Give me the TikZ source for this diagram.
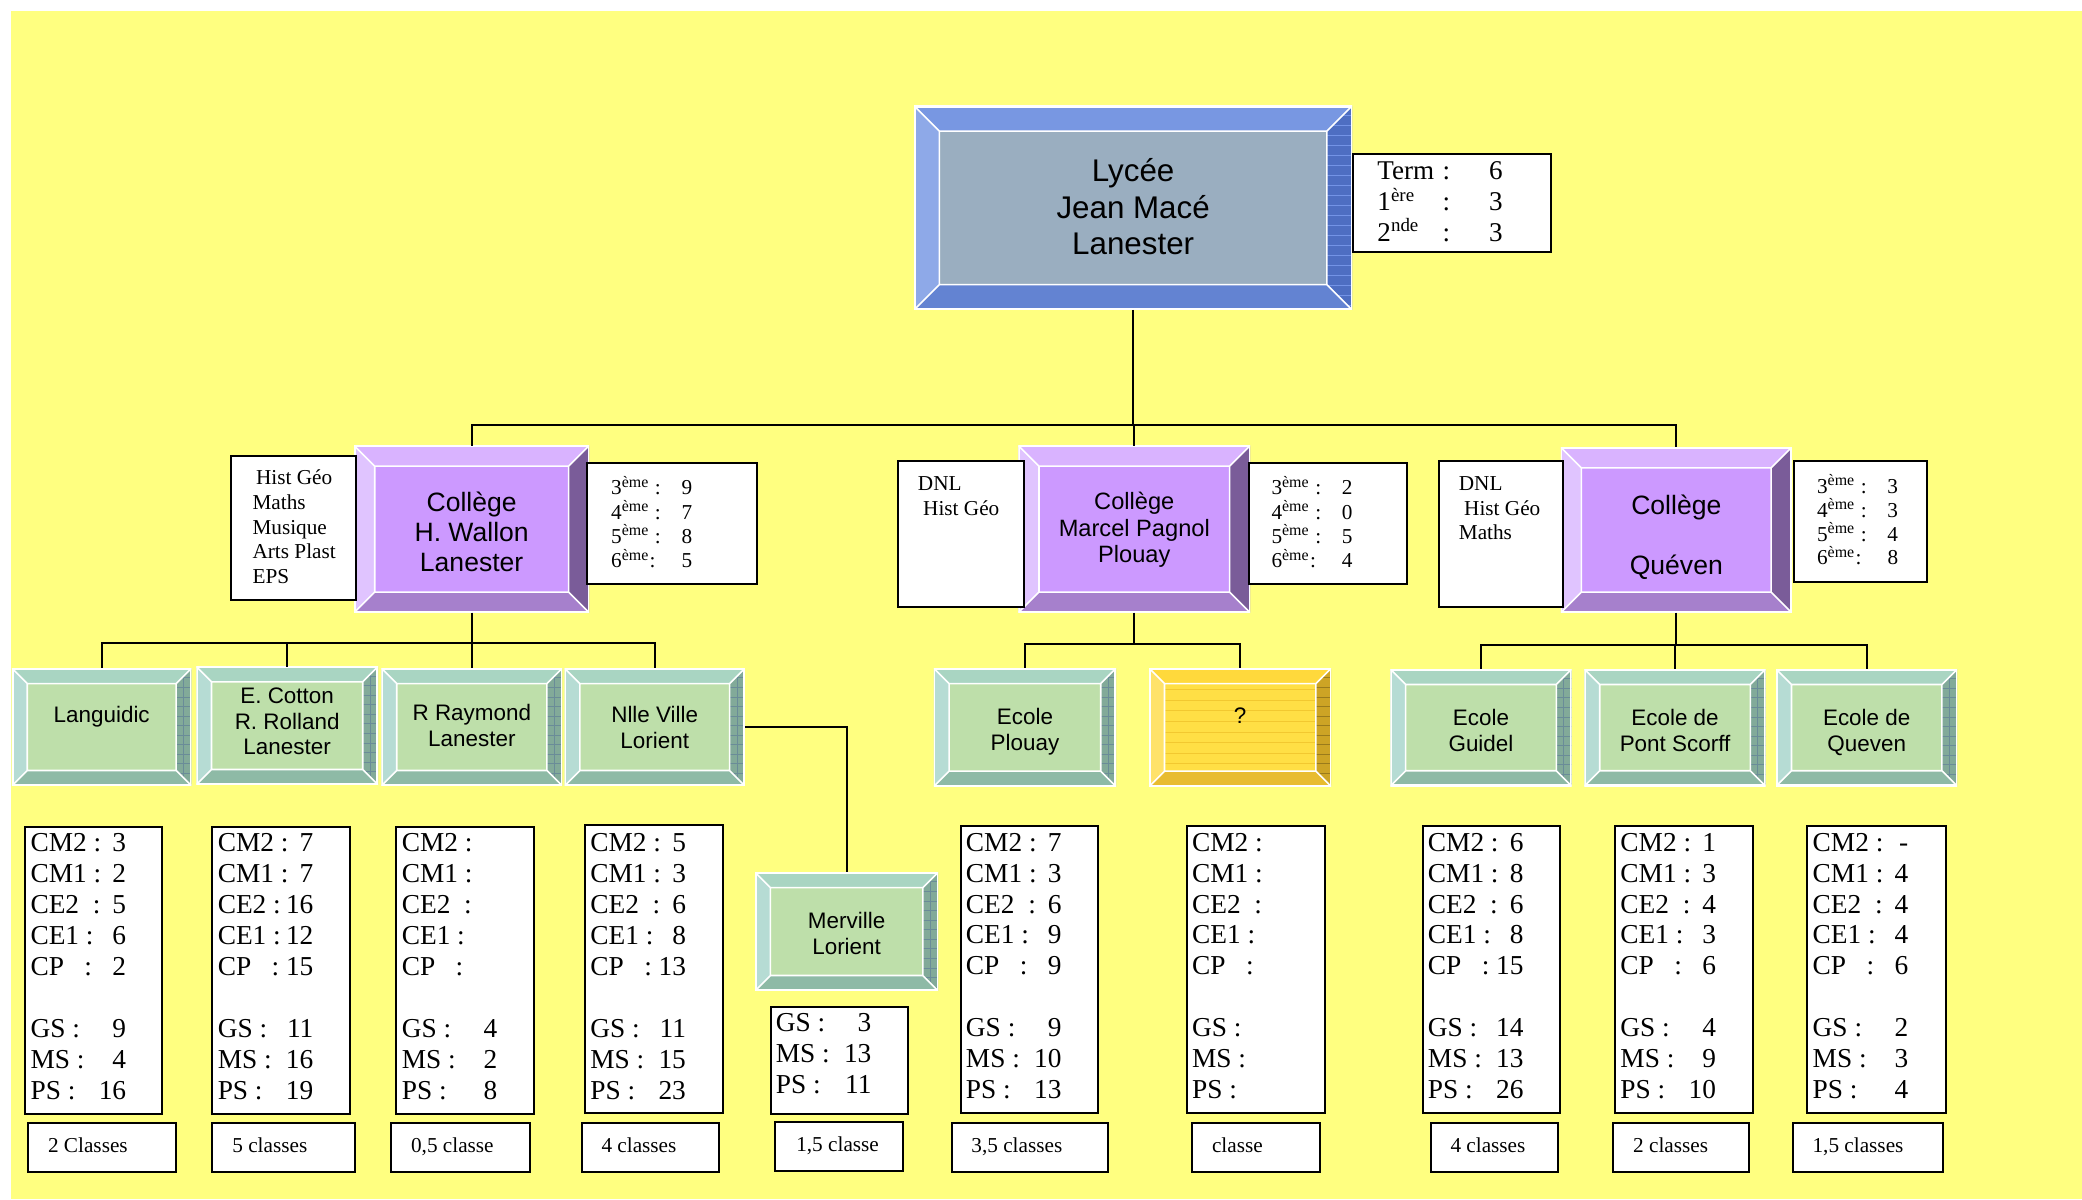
\documentclass[tikz,border=0pt]{standalone}
\usepackage{fontspec}
\setmainfont{Liberation Serif}
\setsansfont{Liberation Sans}
\definecolor{bgy}{HTML}{FFFF80}
\definecolor{lF}{HTML}{9AAEC0}\definecolor{lT}{HTML}{7897E2}\definecolor{lL}{HTML}{8EA9E8}
\definecolor{lR}{HTML}{4E6EC2}\definecolor{lB}{HTML}{6383D2}\definecolor{lG}{HTML}{7393E6}
\definecolor{pF}{HTML}{CC99FF}\definecolor{pT}{HTML}{D9B3FF}\definecolor{pL}{HTML}{E0C4FF}
\definecolor{pR}{HTML}{7A5C99}\definecolor{pB}{HTML}{A680CC}
\definecolor{gF}{HTML}{BEDFAA}\definecolor{gT}{HTML}{A9D5C2}\definecolor{gL}{HTML}{B6DCD4}
\definecolor{gR}{HTML}{82AA99}\definecolor{gB}{HTML}{8EBAA6}\definecolor{gG}{HTML}{6A8C98}
\definecolor{yF}{HTML}{FFDF45}\definecolor{yT}{HTML}{FFD93C}\definecolor{yL}{HTML}{FFE26A}
\definecolor{yR}{HTML}{CDA425}\definecolor{yB}{HTML}{E8BC30}\definecolor{yG}{HTML}{F2C830}
\newcommand\bevelpic[8]{%
  \coordinate (bNW) at (path picture bounding box.north west);
  \coordinate (bNE) at (path picture bounding box.north east);
  \coordinate (bSW) at (path picture bounding box.south west);
  \coordinate (bSE) at (path picture bounding box.south east);
  \coordinate (iNW) at ([xshift=#6,yshift=-#6]bNW);
  \coordinate (iNE) at ([xshift=-#6,yshift=-#6]bNE);
  \coordinate (iSW) at ([xshift=#6,yshift=#6]bSW);
  \coordinate (iSE) at ([xshift=-#6,yshift=#6]bSE);
  \fill[#1] (bNW)--(bNE)--(iNE)--(iNW)--cycle;
  \fill[#2] (bNW)--(iNW)--(iSW)--(bSW)--cycle;
  \fill[#3] (bNE)--(bSE)--(iSE)--(iNE)--cycle;
  \begin{scope}\clip (bNE)--(bSE)--(iSE)--(iNE)--cycle; #7\end{scope}
  \fill[#4] (bSW)--(iSW)--(iSE)--(bSE)--cycle;
  \fill[#5] (iNW) rectangle (iSE);
  \begin{scope}\clip (iNW) rectangle (iSE); #8\end{scope}
  \draw[white,line width=0.6pt] (iNW) rectangle (iSE) (bNW)--(iNW) (bNE)--(iNE) (bSW)--(iSW) (bSE)--(iSE);
  \draw[white,line width=1.2pt] (bNW) rectangle (bSE);
}
\newcommand\hlin[3]{\foreach \ii in {1,...,#3}{\draw[#1,line width=0.35pt] ([yshift=-\ii*#2]bNW) -- ([yshift=-\ii*#2]bNE);}}
\newcommand\vlin[2]{\draw[#1,line width=0.35pt] ([xshift=-#2]bNE) -- ([xshift=-#2]bSE);}
\newcommand\txtblk[5]{\parbox[c][#2][t]{#1}{#4\rule{0pt}{#3}#5}}
\newcommand\dline[2]{\makebox[36pt][l]{#1\hfill#2}}
\newcommand\dvals[8]{\dline{CM2 :}{#1}\\\dline{CM1 :}{#2}\\\dline{CE2~~:}{#3}\\\dline{CE1 :}{#4}\\\dline{CP~~~:}{#5}\\[11.65pt]\dline{GS :}{#6}\\\dline{MS :}{#7}\\\dline{PS :}{#8}}
\newcommand\eme[2]{\makebox[26.5pt][l]{#1\textsuperscript{ème} :}#2}
\newcommand\emee[2]{\makebox[26.5pt][l]{#1\textsuperscript{ème}:}#2}
\newcommand\dleft{\raggedright\leftskip=2pt\relax}
\newcommand\cleft{\raggedright\leftskip=7.5pt\relax}
\tikzset{
  bev/.style={inner sep=0pt, outer sep=0pt, anchor=north west, text=black},
  lycee/.style={bev, font=\sffamily\fontsize{11.8}{13.8}\selectfont,
    path picture={\bevelpic{lT}{lL}{lR}{lB}{lF}{9.5pt}{\hlin{lG}{3.75pt}{22}}{}}},
  college/.style={bev, path picture={\bevelpic{pT}{pL}{pR}{pB}{pF}{7.75pt}{}{}}},
  ecole/.style={bev, font=\sffamily\fontsize{8.45}{9.75}\selectfont,
    path picture={\bevelpic{gT}{gL}{gR}{gB}{gF}{5.75pt}{\hlin{gG}{3.6pt}{14}\vlin{gG}{2.9pt}}{}}},
  qbox/.style={bev, font=\sffamily\fontsize{8.45}{9.75}\selectfont,
    path picture={\bevelpic{yT}{yL}{yR}{yB}{yF}{5.75pt}{\hlin{yR!75!black}{3.6pt}{14}}{\hlin{yG}{4pt}{12}}}},
  tbx/.style={draw=black, line width=0.75pt, fill=white, inner sep=0pt, outer sep=0pt, anchor=north west, text=black},
  dbx/.style={tbx, font=\fontsize{10.3}{11.65}\selectfont},
  cbx/.style={tbx, font=\fontsize{8}{9.5}\selectfont},
  conn/.style={draw=black, line width=0.75pt},
}
\begin{document}
\begin{tikzpicture}[x=0.5pt,y=-0.5pt]
\useasboundingbox (0,0) rectangle (1568,903);
\fill[bgy] (8,8) rectangle (1568,903);

% Lycee
\node[lycee] (lyc) at (688.5,79.8) {\txtblk{164.9pt}{76.8pt}{28.5pt}{\centering}{Lycée\\Jean Macé\\Lanester}};
\node[tbx, font=\fontsize{10.2}{11.6}\selectfont] (term) at (1018.6,116.2) {\txtblk{74.65pt}{36.65pt}{9.65pt}{\raggedright\leftskip=9.4pt\relax}{\makebox[24.5pt][l]{Term}\makebox[17.5pt][l]{:}6\\\makebox[24.5pt][l]{1\textsuperscript{ère}}\makebox[17.5pt][l]{:}3\\\makebox[24.5pt][l]{2\textsuperscript{nde}}\makebox[17.5pt][l]{:}3}};

% Colleges
\node[college, font=\sffamily\fontsize{10}{11.3}\selectfont] (wal) at (266.7,335.6) {\txtblk{88.5pt}{62.9pt}{24.85pt}{\centering}{Collège\\H. Wallon\\Lanester}};
\node[tbx, font=\fontsize{8}{9.25}\selectfont] (wal1) at (174.2,343.1) {\txtblk{46.85pt}{54.45pt}{11.05pt}{\raggedright\leftskip=8pt\relax}{\hspace*{1.35pt}Hist Géo\\Maths\\Musique\\Arts Plast\\EPS}};
\node[tbx, font=\fontsize{8}{9.15}\selectfont] (wal2) at (442.3,348.9) {\txtblk{63.8pt}{45.55pt}{11.9pt}{\raggedright\leftskip=9pt\relax}{\eme{3}{9}\\\eme{4}{7}\\\eme{5}{8}\\\emee{6}{5}}};

\node[college, font=\sffamily\fontsize{8.9}{10}\selectfont] (pag) at (767,335.6) {\txtblk{87.25pt}{62.9pt}{24.2pt}{\centering}{Collège\\Marcel Pagnol\\Plouay}};
\node[tbx, font=\fontsize{8}{9.1}\selectfont] (pag1) at (676.3,347.1) {\txtblk{47.35pt}{54.95pt}{11.3pt}{\raggedright\leftskip=7.5pt\relax}{DNL\\\hspace*{2pt}Hist Géo}};
\node[tbx, font=\fontsize{8}{9.15}\selectfont] (pag2) at (940.4,348.9) {\txtblk{59.6pt}{45.55pt}{11.9pt}{\raggedright\leftskip=8.6pt\relax}{\eme{3}{2}\\\eme{4}{0}\\\eme{5}{5}\\\emee{6}{4}}};

\node[college, font=\sffamily\fontsize{10}{11.3}\selectfont] (que) at (1175.5,336.9) {\txtblk{86.95pt}{62.25pt}{25.45pt}{\centering}{Collège\\[11.3pt]Quéven}};
\node[tbx, font=\fontsize{8}{9.1}\selectfont] (que1) at (1083.7,347.1) {\txtblk{46.65pt}{54.95pt}{11.3pt}{\raggedright\leftskip=7.5pt\relax}{DNL\\\hspace*{2pt}Hist Géo\\Maths}};
\node[tbx, font=\fontsize{8}{9}\selectfont] (que2) at (1350.9,347.1) {\txtblk{50pt}{45.5pt}{12.2pt}{\raggedright\leftskip=8.8pt\relax}{\eme{3}{3}\\\eme{4}{3}\\\eme{5}{4}\\\emee{6}{8}}};

% Ecoles
\node[ecole] (lan) at (9,503.3) {\txtblk{67.6pt}{44.25pt}{20.4pt}{\centering}{Languidic}};
\node[ecole] (cot) at (147.8,502) {\txtblk{68.45pt}{44.5pt}{13.8pt}{\centering}{E. Cotton\\R. Rolland\\Lanester}};
\node[ecole] (ray) at (287.3,503.3) {\txtblk{68.05pt}{44.25pt}{19.6pt}{\centering}{R Raymond\\Lanester}};
\node[ecole] (nlv) at (425.2,503.3) {\txtblk{67.9pt}{44.25pt}{20.4pt}{\centering}{Nlle Ville\\Lorient}};
\node[ecole] (mer) at (568.7,657) {\txtblk{68.9pt}{44.6pt}{21.2pt}{\centering}{Merville\\Lorient}};
\node[ecole] (plo) at (703.3,503.3) {\txtblk{68.6pt}{44.5pt}{21.2pt}{\centering}{Ecole\\Plouay}};
\node[qbox] (qq) at (865.5,503.3) {\txtblk{68.5pt}{44.5pt}{20.7pt}{\centering}{?}};
\node[ecole] (gui) at (1047.1,504) {\txtblk{68.25pt}{44pt}{21.3pt}{\centering}{Ecole\\Guidel}};
\node[ecole] (pts) at (1193.3,504) {\txtblk{68.2pt}{44pt}{21.3pt}{\centering}{Ecole de\\Pont Scorff}};
\node[ecole] (qvn) at (1337.7,504) {\txtblk{68.15pt}{44pt}{21.3pt}{\centering}{Ecole de\\Queven}};

% Data boxes
\node[dbx] (d1) at (19,622.5) {\txtblk{51.65pt}{108.2pt}{9.5pt}{\dleft}{\dvals{3}{2}{5}{6}{2}{9}{4}{16}}};
\node[dbx] (d2) at (160,622.5) {\txtblk{51.75pt}{108.2pt}{9.5pt}{\dleft}{\dline{CM2 :}{7}\\\dline{CM1 :}{7}\\\dline{CE2 :}{16}\\\dline{CE1 :}{12}\\\dline{CP~~~:}{15}\\[11.65pt]\dline{GS :}{11}\\\dline{MS :}{16}\\\dline{PS :}{19}}};
\node[dbx] (d3) at (298.6,622.5) {\txtblk{51.7pt}{108.2pt}{9.5pt}{\dleft}{\dvals{}{}{}{}{}{4}{2}{8}}};
\node[dbx] (d4) at (440.6,621) {\txtblk{52pt}{108.5pt}{10.2pt}{\dleft}{\dvals{5}{3}{6}{8}{13}{11}{15}{23}}};
\node[dbx] (d5) at (580.3,758.1) {\txtblk{51.85pt}{40.4pt}{9.5pt}{\dleft}{\dline{GS :}{3}\\\dline{MS :}{13}\\\dline{PS :}{11}}};
\node[dbx] (d6) at (723.5,622) {\txtblk{51.55pt}{108.2pt}{9.5pt}{\dleft}{\dvals{7}{3}{6}{9}{9}{9}{10}{13}}};
\node[dbx] (d7) at (893.8,622) {\txtblk{51.9pt}{108.2pt}{9.5pt}{\dleft}{\dvals{}{}{}{}{}{}{}{}}};
\node[dbx] (d8) at (1071.4,622) {\txtblk{51.8pt}{108.2pt}{9.5pt}{\dleft}{\dvals{6}{8}{6}{8}{15}{14}{13}{26}}};
\node[dbx] (d9) at (1216.4,622) {\txtblk{51.8pt}{108.2pt}{9.5pt}{\dleft}{\dvals{1}{3}{4}{3}{6}{4}{9}{10}}};
\node[dbx] (d10) at (1361.2,622) {\txtblk{52pt}{108.2pt}{9.5pt}{\dleft}{\dvals{-}{4}{4}{4}{6}{2}{3}{4}}};

% Class boxes
\node[cbx] (c1) at (21.2,845.9) {\txtblk{55.65pt}{18.2pt}{11pt}{\cleft}{2 Classes}};
\node[cbx] (c2) at (160,845.9) {\txtblk{53.75pt}{18.2pt}{11pt}{\cleft}{5 classes}};
\node[cbx] (c3) at (294.6,845.9) {\txtblk{52.2pt}{18.2pt}{11pt}{\cleft}{0,5 classe}};
\node[cbx] (c4) at (438,845.9) {\txtblk{51.65pt}{18.2pt}{11pt}{\cleft}{4 classes}};
\node[cbx] (c5) at (583.7,845.2) {\txtblk{48pt}{18.2pt}{11pt}{\raggedright\leftskip=8pt\relax}{1,5 classe}};
\node[cbx] (c6) at (716.6,845.9) {\txtblk{58.95pt}{18.2pt}{11pt}{\cleft}{3,5 classes}};
\node[cbx] (c7) at (897.8,845.9) {\txtblk{48.1pt}{18.2pt}{11pt}{\cleft}{classe}};
\node[cbx] (c8) at (1077.4,845.9) {\txtblk{48.1pt}{18.2pt}{11pt}{\cleft}{4 classes}};
\node[cbx] (c9) at (1215,845.9) {\txtblk{50.95pt}{18.2pt}{11pt}{\cleft}{2 classes}};
\node[cbx] (c10) at (1350.1,845.9) {\txtblk{56.65pt}{18.2pt}{11pt}{\cleft}{1,5 classes}};

% Connectors
\coordinate (b0) at (853.4,320);
\draw[conn] (lyc.south) -- (b0);
\draw[conn] (b0) -| (wal.north);
\draw[conn] (b0) -| (pag.north);
\draw[conn] (b0) -| (que.north);

\coordinate (b1) at (355.2,484.4);
\draw[conn] (wal.south) -- (b1);
\draw[conn] (b1) -| (lan.north);
\draw[conn] (b1) -| (cot.north);
\draw[conn] (b1) -| (ray.north);
\draw[conn] (b1) -| (nlv.north);
\draw[conn] (nlv.east) -| (mer.north);

\coordinate (b2) at (854.25,485);
\draw[conn] (pag.south) -- (b2);
\draw[conn] (b2) -| (plo.north);
\draw[conn] (b2) -| (qq.north);

\coordinate (b3) at (1262.45,485.7);
\draw[conn] (que.south) -- (b3);
\draw[conn] (b3) -| (gui.north);
\draw[conn] (b3) -| (pts.north);
\draw[conn] (b3) -| (qvn.north);
\end{tikzpicture}
\end{document}
